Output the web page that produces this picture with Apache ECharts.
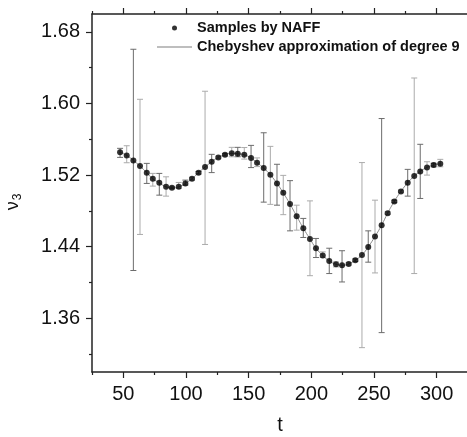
<!DOCTYPE html>
<html lang="en">
<head>
<meta charset="UTF-8" />
<title>NAFF samples</title>
<script src="https://cdn.jsdelivr.net/npm/echarts@6/dist/echarts.min.js"></script>
</head>
<body style="margin:0">
<div id="main" style="width:467px;height:437px;"></div>
<script type="text/javascript">
// sample times and tune values
var tValues = [47.4, 52.7, 58.0, 63.3, 68.7, 73.5, 78.7, 84.1, 88.8, 94.2,
  99.5, 104.8, 110.0, 115.2, 120.5, 125.8, 131.1, 136.5, 141.3, 146.5,
  151.9, 156.7, 162.0, 167.3, 172.6, 177.6, 183.0, 188.3, 193.6, 198.9,
  203.7, 209.1, 214.3, 219.7, 224.5, 229.8, 235.1, 240.4, 245.4, 250.8,
  256.1, 260.9, 266.2, 271.5, 276.9, 282.1, 286.9, 292.3, 297.6, 302.9];
var nuValues = [1.5454, 1.5420, 1.5364, 1.5301, 1.5226, 1.5159, 1.5114, 1.5069, 1.5058, 1.5069,
  1.5107, 1.5159, 1.5226, 1.5290, 1.5349, 1.5398, 1.5427, 1.5443, 1.5438, 1.5427,
  1.5390, 1.5338, 1.5278, 1.5203, 1.5107, 1.5002, 1.4876, 1.4741, 1.4607, 1.4487,
  1.4383, 1.4302, 1.4241, 1.4204, 1.4193, 1.4208, 1.4249, 1.4308, 1.4398, 1.4514,
  1.4641, 1.4775, 1.4906, 1.5018, 1.5114, 1.5189, 1.5241, 1.5286, 1.5312, 1.5326];
var errHigh = [1.5499, 1.5528, 1.6606, 1.6047, 1.5331, 1.5219, 1.5219, 1.5181, 1.5068, 1.5118,
  1.5144, 1.5175, 1.5240, 1.6137, 1.5432, 1.5412, 1.5440, 1.5510, 1.5510, 1.5508,
  1.5532, 1.5392, 1.5673, 1.5521, 1.5321, 1.5197, 1.5138, 1.4864, 1.4716, 1.4912,
  1.4492, 1.4342, 1.4383, 1.4230, 1.4355, 1.4222, 1.4263, 1.5340, 1.4577, 1.4920,
  1.5832, 1.4790, 1.4920, 1.5032, 1.5264, 1.6285, 1.5544, 1.5349, 1.5332, 1.5376];
var errLow = [1.5398, 1.5338, 1.4134, 1.4537, 1.5107, 1.5077, 1.4976, 1.4965, 1.5048, 1.5051,
  1.5088, 1.5143, 1.5212, 1.4425, 1.5228, 1.5384, 1.5414, 1.5405, 1.5405, 1.5379,
  1.5284, 1.5295, 1.4898, 1.4873, 1.4864, 1.4758, 1.4577, 1.4585, 1.4503, 1.4076,
  1.4279, 1.4279, 1.4100, 1.4174, 1.4006, 1.4194, 1.4235, 1.3272, 1.4227, 1.4107,
  1.3440, 1.4760, 1.4892, 1.5004, 1.4965, 1.4100, 1.4939, 1.5200, 1.5292, 1.5293];

var majorX = [50, 100, 150, 200, 250, 300];
var minorX = [25, 75, 125, 175, 225, 275, 325];
var majorY = [1.36, 1.44, 1.52, 1.60, 1.68];
var minorY = [1.32, 1.40, 1.48, 1.56, 1.64];

var myChart = echarts.init(document.getElementById("main"));

var axisColor = "#222";
var fontFamily = "Liberation Sans, Arial, sans-serif";

function xAx(pos, ticks, len, showLine, showLabel) {
  return {
    type: "value",
    position: pos,
    min: 25,
    max: 325,
    axisLine: { show: showLine, lineStyle: { color: axisColor, width: 1.5 } },
    axisTick: { show: true, customValues: ticks, length: len, lineStyle: { color: axisColor, width: 1.2 } },
    axisLabel: showLabel
      ? { customValues: ticks, fontSize: 20, color: "#111", margin: 12, fontFamily: fontFamily }
      : { show: false },
    splitLine: { show: false },
  };
}

function yAx(ticks, len, showLine, showLabel) {
  return {
    type: "value",
    position: "left",
    min: 1.3,
    max: 1.7,
    axisLine: { show: showLine, lineStyle: { color: axisColor, width: 1.5 } },
    axisTick: { show: true, customValues: ticks, length: len, lineStyle: { color: axisColor, width: 1.2 } },
    axisLabel: showLabel
      ? {
          customValues: ticks,
          fontSize: 20,
          color: "#111",
          margin: 12,
          fontFamily: fontFamily,
          formatter: function (v) { return v.toFixed(2); },
        }
      : { show: false },
    splitLine: { show: false },
  };
}

var xMain = xAx("bottom", majorX, 6, true, true);
xMain.name = "t";
xMain.nameLocation = "middle";
xMain.nameGap = 43;
xMain.nameTextStyle = { fontSize: 20, color: "#111", fontFamily: fontFamily };

var yMain = yAx(majorY, 6, true, true);
yMain.name = "{a|ν}{b|3}";
yMain.nameLocation = "middle";
yMain.nameRotate = 90;
yMain.nameGap = 68;
yMain.nameTextStyle = {
  color: "#111",
  fontFamily: fontFamily,
  padding: [0, 18, 0, 0],
  rich: {
    a: { fontSize: 18, fontFamily: fontFamily, color: "#111" },
    b: { fontSize: 12, fontFamily: fontFamily, color: "#111", padding: [9, 0, 0, 1] },
  },
};

var errData = tValues.map(function (t, i) { return [t, errHigh[i], errLow[i]]; });
var pts = tValues.map(function (t, i) { return [t, nuValues[i]]; });

option = {
  animation: false,
  grid: { left: 92, top: 14, right: -1, bottom: 65, containLabel: false, outerBoundsMode: "none" },
  legend: {
    orient: "vertical",
    left: 157,
    top: 20,
    padding: 0,
    itemWidth: 35,
    itemHeight: 5,
    itemGap: 3,
    textStyle: { fontSize: 14.5, fontWeight: "bold", color: "#111", fontFamily: fontFamily, lineHeight: 16 },
    data: [
      { name: "Samples by NAFF", icon: "circle" },
      { name: "Chebyshev approximation of degree 9", icon: "path://M0,0L70,0L70,3L0,3Z", itemStyle: { color: "#a8a8a8" } },
    ],
  },
  xAxis: [
    xMain,
    xAx("bottom", minorX, 3, false, false),
    xAx("top", majorX, 6, true, false),
    xAx("top", minorX, 3, false, false),
  ],
  yAxis: [yMain, yAx(minorY, 3, false, false)],
  series: [
    {
      type: "custom",
      name: "errors",
      xAxisIndex: 0,
      yAxisIndex: 0,
      silent: true,
      z: 1,
      encode: { x: 0, y: [1, 2] },
      data: errData,
      renderItem: function (params, api) {
        var x = api.value(0);
        var top = api.coord([x, api.value(1)]);
        var bot = api.coord([x, api.value(2)]);
        var color = params.dataIndex % 2 ? "#ababab" : "#6c6c6c";
        var style = { stroke: color, lineWidth: 1 };
        var w = 3;
        return {
          type: "group",
          children: [
            { type: "line", shape: { x1: top[0], y1: top[1], x2: top[0], y2: bot[1] }, style: style },
            { type: "line", shape: { x1: top[0] - w, y1: top[1], x2: top[0] + w, y2: top[1] }, style: style },
            { type: "line", shape: { x1: bot[0] - w, y1: bot[1], x2: bot[0] + w, y2: bot[1] }, style: style },
          ],
        };
      },
    },
    {
      type: "line",
      name: "Chebyshev approximation of degree 9",
      xAxisIndex: 0,
      yAxisIndex: 0,
      data: pts,
      smooth: true,
      symbol: "none",
      z: 2,
      lineStyle: { color: "#8a8a8a", width: 1 },
      itemStyle: { color: "#8a8a8a" },
    },
    {
      type: "scatter",
      name: "Samples by NAFF",
      xAxisIndex: 0,
      yAxisIndex: 0,
      data: pts,
      symbol: "circle",
      symbolSize: 6,
      z: 3,
      itemStyle: { color: "#000" },
    },
  ],
};

myChart.setOption(option);
</script>
</body>
</html>
